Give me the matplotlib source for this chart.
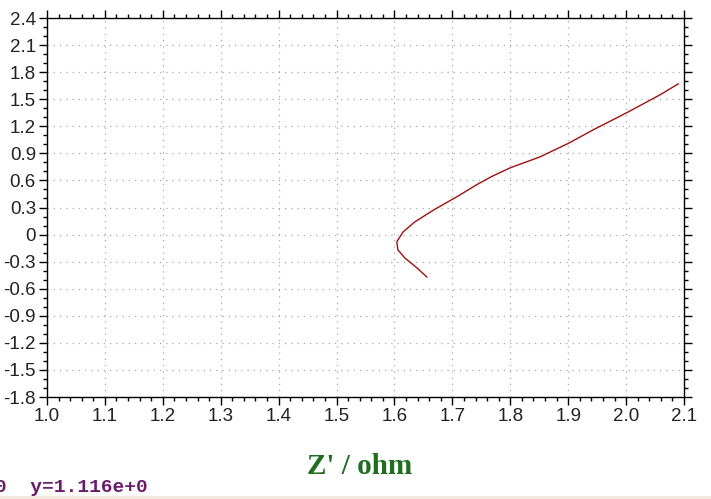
import matplotlib
matplotlib.use("Agg")
import matplotlib.pyplot as plt
from matplotlib.ticker import MultipleLocator

z_real = [1.656, 1.639, 1.618, 1.606, 1.604, 1.615, 1.635, 1.667, 1.708, 1.744,
          1.770, 1.800, 1.851, 1.900, 1.943, 2.001, 2.059, 2.090]
z_imag = [-0.47, -0.37, -0.26, -0.17, -0.08, 0.03, 0.14, 0.27, 0.42, 0.56,
          0.65, 0.74, 0.86, 1.01, 1.16, 1.35, 1.55, 1.67]

x_ticks = [1.0, 1.1, 1.2, 1.3, 1.4, 1.5, 1.6, 1.7, 1.8, 1.9, 2.0, 2.1]
y_ticks = [2.4, 2.1, 1.8, 1.5, 1.2, 0.9, 0.6, 0.3, 0, -0.3, -0.6, -0.9, -1.2, -1.5, -1.8]
y_labels = ["2.4", "2.1", "1.8", "1.5", "1.2", "0.9", "0.6", "0.3", "0", "-0.3", "-0.6",
            "-0.9", "-1.2", "-1.5", "-1.8"]
x_label = "Z' / ohm"
status_text = "0  y=1.116e+0"

fig = plt.figure(figsize=(7.11, 4.99), dpi=100)
ax = fig.add_axes([47/711, 1 - 397/499, (684-47)/711, (397-18)/499])
ax.plot(z_real, z_imag, color="#a01010", lw=1.0)
ax.set_xlim(1.0, 2.1)
ax.set_ylim(-1.8, 2.4)
ax.set_xticks(x_ticks)
ax.set_xticklabels([f"{v:.1f}" for v in x_ticks])
ax.set_yticks(y_ticks)
ax.set_yticklabels(y_labels)
ax.xaxis.set_minor_locator(MultipleLocator(0.02))
ax.yaxis.set_minor_locator(MultipleLocator(0.1))
ax.grid(True, which="major", color="#a8a8a8", linestyle=(0, (1, 4)), lw=0.9)
for s in ax.spines.values():
    s.set_color("black")
    s.set_linewidth(1.0)
ax.tick_params(which="both", direction="out", top=True, right=True, labeltop=False,
               labelright=False, colors="black", width=1.0)
ax.tick_params(which="major", length=6, labelsize=13.5, pad=2)
ax.tick_params(which="minor", length=3)
for lab in ax.get_xticklabels() + ax.get_yticklabels():
    lab.set_fontfamily("Liberation Sans")
    lab.set_color("#222222")

fig.text(360/711, 1 - 466/499, x_label, ha="center", va="center", fontsize=21,
         fontweight="bold", family="Liberation Serif", color="#1e6e1e")
fig.text(-5/711, 1 - 487/499, status_text, ha="left", va="center", fontsize=14,
         fontweight="bold", family="Liberation Mono", color="#6a1a6a")
fig.add_artist(plt.Line2D([0, 1], [1 - 497/499, 1 - 497/499], color="#f0e8d8", lw=2))

fig.savefig("out.png", dpi=100)
